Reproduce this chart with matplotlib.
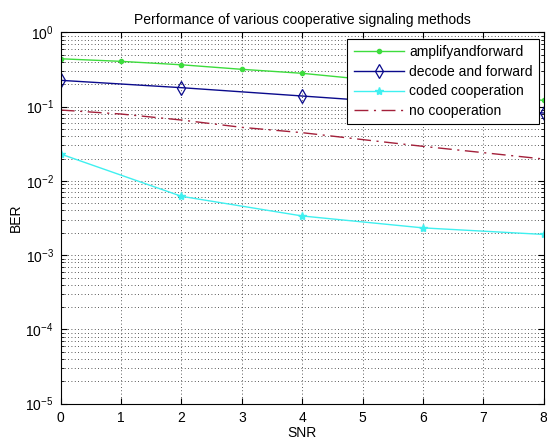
import matplotlib as mpl
import matplotlib.pyplot as plt
import numpy as np
from matplotlib.ticker import LogLocator, NullFormatter

mpl.rcParams["font.family"] = ["Liberation Sans", "DejaVu Sans"]
mpl.rcParams["mathtext.fontset"] = "custom"
mpl.rcParams["mathtext.rm"] = "Liberation Sans"
mpl.rcParams["mathtext.it"] = "Liberation Sans"
mpl.rcParams["font.size"] = 10

# ── data ──────────────────────────────────────────────────────────
snr_all = [0, 1, 2, 3, 4, 5, 6, 7, 8]
snr_even = [0, 2, 4, 6, 8]

ber_amplify = [0.441, 0.407, 0.366, 0.318, 0.281, 0.234, 0.188, 0.151, 0.121]
ber_decode = [0.226, 0.180, 0.139, 0.107, 0.082]
ber_coded = [0.023, 0.0062, 0.00337, 0.00233, 0.0019]
ber_nocoop = [0.090, 0.0795, 0.066, 0.0526, 0.0446, 0.036, 0.0292, 0.024, 0.0197]

labels = ["amplifyandforward", "decode and forward", "coded cooperation", "no cooperation"]

GREEN = "#3ddc3d"
NAVY = "#0a0a8c"
CYAN = "#3ff0f0"
DKRED = "#a3203a"

fig = plt.figure(figsize=(5.47, 4.41), dpi=100)
ax = fig.add_axes([0.111, 0.0846, 0.883, 0.842])

ax.semilogy(snr_all, ber_amplify, color=GREEN, lw=1.0, marker=".", ms=6,
            label=labels[0])
ax.semilogy(snr_even, ber_decode, color=NAVY, lw=1.0, marker="d", ms=7.5,
            mfc="none", mec=NAVY, mew=0.9, label=labels[1])
ax.semilogy(snr_even, ber_coded, color=CYAN, lw=1.0, marker="*", ms=6,
            label=labels[2])
ax.semilogy(snr_all, ber_nocoop, color=DKRED, lw=1.0, ls="-.",
            dashes=(10, 4, 1.5, 4), label=labels[3])

ax.set_xlim(0, 8)
ax.set_ylim(1e-5, 1)
ax.set_xticks(range(0, 9))
ax.yaxis.set_major_locator(LogLocator(base=10, numticks=10))
ax.yaxis.set_minor_locator(LogLocator(base=10, subs=np.arange(2, 10), numticks=20))
ax.yaxis.set_minor_formatter(NullFormatter())

grid_kw = dict(ls=(0, (1, 3)), color="#222222", lw=0.6)
ax.grid(True, which="major", **grid_kw)
ax.grid(True, which="minor", axis="y", **grid_kw)
ax.tick_params(which="both", direction="in", top=True, right=True)
ax.tick_params(which="major", length=4, labelsize=10, pad=5)
ax.tick_params(which="minor", length=2)
for s in ax.spines.values():
    s.set_linewidth(0.8)

ax.set_title("Performance of various cooperative signaling methods",
             fontsize=10, pad=6)
ax.set_xlabel("SNR", fontsize=10, labelpad=1)
ax.set_ylabel("BER", fontsize=10, labelpad=2)

leg = ax.legend(loc="upper right", bbox_to_anchor=(0.990, 0.982),
                borderaxespad=0, fancybox=False, edgecolor="black",
                framealpha=1, handlelength=3.6, labelspacing=0.4,
                fontsize=10, handletextpad=0.4, borderpad=0.45)
leg.get_frame().set_linewidth(0.8)

fig.savefig("out.png", dpi=100)
